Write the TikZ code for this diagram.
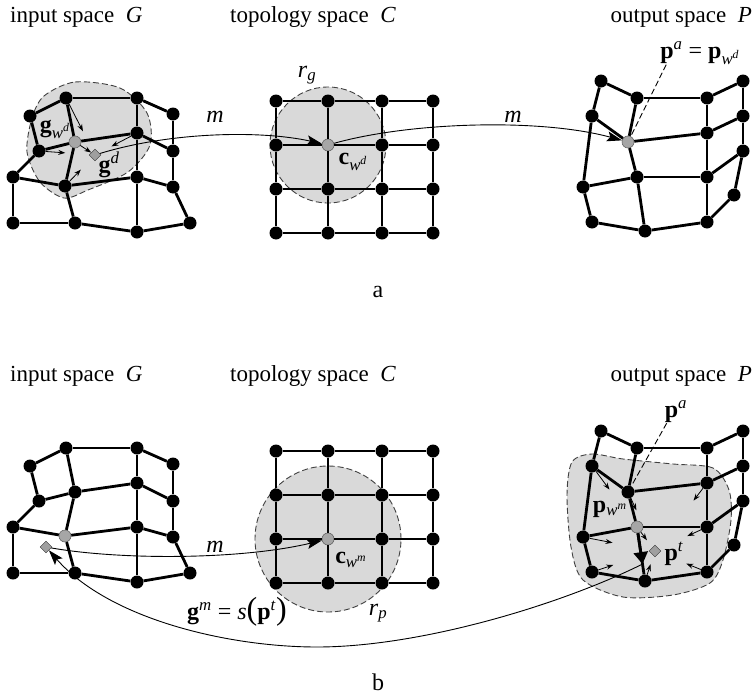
\documentclass[tikz,border=0pt]{standalone}
\usepackage{fontspec}
\setmainfont{Liberation Serif}
\usetikzlibrary{arrows.meta, shapes.geometric, backgrounds}

% input space mesh, #1 = index of the grey node
\newcommand{\inmesh}[1]{%
  \foreach \n/\x/\y in {1/30/116, 2/66/98, 3/137/98, 4/173/114, 5/39/151, 6/75/142, 7/137/133, 8/173/151,
                        9/13/177, 10/65/186, 11/137/177, 12/173/187, 13/13/223, 14/75/223, 15/137/232, 16/190/223}{
    \ifnum\n=#1\relax \node[win] (g\n) at (\x,\y) {};
    \else \node[vtx] (g\n) at (\x,\y) {};\fi}
  \foreach \a/\b in {1/2, 2/3, 3/4, 4/8, 1/5, 2/6, 5/6, 6/7, 7/8, 3/7, 7/11, 11/15, 5/9, 6/10, 9/10,
                     10/11, 11/12, 8/12, 9/13, 13/14, 10/14, 14/15, 15/16, 12/16}
    \draw[wire] (g\a) -- (g\b);
}
% topology grid, #1 = column and row of the grey node
\newcommand{\topogrid}[1]{%
  \foreach \i/\x in {1/276, 2/328, 3/382, 4/433}
    \foreach \j/\y in {1/101, 2/145, 3/189, 4/233}{
      \ifnum\i\j=#1\relax \node[win] (c\i\j) at (\x,\y) {};
      \else \node[vtx] (c\i\j) at (\x,\y) {};\fi}
  \foreach \i [evaluate=\i as \k using int(\i+1)] in {1,2,3}
    \foreach \j in {1,...,4}{
      \draw[wire] (c\i\j) -- (c\k\j);
      \draw[wire] (c\j\i) -- (c\j\k);}
}
% output space mesh, #1 = index of the grey node
\newcommand{\outmesh}[1]{%
  \foreach \n/\x/\y in {1/601/81, 2/637/98, 3/707/98, 4/743/81, 5/592/116, 6/743/116, 7/707/133, 8/628/142,
                        9/743/151, 10/583/187, 11/637/177, 12/707/177, 13/734/195, 14/592/222, 15/645/231, 16/707/222}{
    \ifnum\n=#1\relax \node[win] (p\n) at (\x,\y) {};
    \else \node[vtx] (p\n) at (\x,\y) {};\fi}
  \foreach \a/\b in {1/2, 2/3, 3/4, 1/5, 2/8, 3/7, 7/12, 12/16, 4/6, 6/9, 5/8, 8/7, 7/6, 5/10, 8/11,
                     10/11, 11/12, 12/9, 9/13, 13/16, 10/14, 14/15, 15/16, 11/15}
    \draw[wire] (p\a) -- (p\b);
}

\begin{document}
\begin{tikzpicture}[x=1pt, y=-1pt,
    vtx/.style={circle, fill=black, inner sep=0pt, minimum size=13pt},
    win/.style={circle, fill=gray!70, draw=black!60, line width=0.6pt, inner sep=0pt, minimum size=12pt},
    probe/.style={diamond, fill=gray!75, draw=gray!40!black, line width=0.4pt, inner sep=0pt, minimum size=12pt},
    wire/.style={line width=2.8pt},
    reach/.style={draw=black!75, fill=black!15, line width=0.9pt, dash pattern=on 6pt off 3pt},
    mapto/.style={line width=0.9pt, -{Stealth[length=15pt, width=10pt, inset=3pt]}},
    pull/.style={line width=0.8pt, -{Stealth[length=7pt, width=5pt]}},
    guide/.style={line width=0.9pt, dash pattern=on 6pt off 3pt},
    lbl/.style={font=\fontsize{24}{28}\selectfont, inner sep=0pt},
    head/.style={font=\fontsize{23}{27}\selectfont, inner sep=0pt, anchor=base west}
  ]
  \useasboundingbox (0,0) rectangle (755,696);

  % titles
  \node[head] (tg1) at (10,22) {input space\enspace\textit{G}};
  \node[head] (tc1) at (230,22) {topology space\enspace\textit{C}};
  \node[head, anchor=base east] (tp1) at (752,22) {output space\enspace\textit{P}};
  \node[head] (tg2) at (10,381) {input space\enspace\textit{G}};
  \node[head] (tc2) at (230,381) {topology space\enspace\textit{C}};
  \node[head, anchor=base east] (tp2) at (752,381) {output space\enspace\textit{P}};
  \node[lbl] (capa) at (378,292) {a};
  \node[lbl] (capb) at (378,682) {b};

  % (a)
  \begin{scope}[name prefix=a-]
    \inmesh{6}
    \topogrid{22}
    \outmesh{8}
    \node[probe] (gd) at (95,155) {};
    \begin{scope}[on background layer]
      \draw[reach] plot[smooth cycle] coordinates {(44,96) (75,82) (120,88) (147,113) (150,145)
        (128,172) (88,190) (64,198) (40,182) (27,152) (32,118)};
      \draw[reach] (c22) circle[radius=58pt];
    \end{scope}
    \foreach \v/\s in {2/22, 5/24, 10/16, 7/14, 6/0}
      \draw[pull, shorten >=\s pt] (g\v) -- (gd);
    \draw[mapto] (gd) .. controls (170,132) and (260,130) .. (c22);
    \draw[mapto] (c22) .. controls (410,122) and (540,118) .. (p8);
    \node[lbl] (gwl) at (55,129) {\textbf{g}\textsubscript{\textit{w}\textsuperscript{\textit{d}}}};
    \node[lbl] (gdl) at (109,165) {\textbf{g}\textsuperscript{\textit{d}}};
    \node[lbl] (m1) at (215,117) {\textit{m}};
    \node[lbl] (m2) at (513,117) {\textit{m}};
    \node[lbl] (rg) at (307,75) {\textit{r}\textsubscript{\textit{g}}};
    \node[lbl] (cwl) at (353,162) {\textbf{c}\textsubscript{\textit{w}\textsuperscript{\textit{d}}}};
    \node[lbl] (pa) at (700,53) {\textbf{p}\textsuperscript{\textit{a}} = \textbf{p}\textsubscript{\textit{w}\textsuperscript{\textit{d}}}};
    \draw[guide] ([xshift=6pt]pa.south west) -- (p8);
  \end{scope}

  % (b)
  \begin{scope}[yshift=-350pt, name prefix=b-]
    \inmesh{10}
    \topogrid{23}
    \outmesh{11}
    \node[probe] (gm) at (46,197) {};
    \node[probe] (pt) at (655,201) {};
    \begin{scope}[on background layer]
      \draw[reach] plot[smooth cycle] coordinates {(572,112) (592,104) (623,109) (673,114) (713,118)
        (729,140) (731,170) (723,210) (710,233) (673,245) (623,247) (583,230) (571,197) (567,145)};
      \draw[reach] (c23) circle[radius=73pt];
    \end{scope}
    \foreach \v/\s in {5/72, 8/40, 7/59, 12/31, 10/38, 14/39, 15/9, 16/29, 11/9}
      \draw[pull, shorten >=\s pt] (p\v) -- (pt);
    \path (p11) -- (p15) coordinate[pos=0.75] (tip);
    \draw[line width=2.8pt, -{Triangle[length=12pt, width=14pt]}] (p11) -- (tip);
    \draw[mapto] (gm) .. controls (120,210) and (240,210) .. (c23);
    \draw[mapto] (tip) .. controls (560,255) and (420,297) .. (317,297)
      .. controls (230,297) and (110,270) .. (gm);
    \node[lbl] (m3) at (215,197) {\textit{m}};
    \node[lbl] (cwm) at (351,210) {\textbf{c}\textsubscript{\textit{w}\textsuperscript{\textit{m}}}};
    \node[lbl] (rp) at (378,263) {\textit{r}\textsubscript{\textit{p}}};
    \node[lbl] (sl) at (237,262) {\textbf{g}\textsuperscript{\textit{m}} = \textit{s}{\fontsize{32}{32}\selectfont(}\textbf{p}\textsuperscript{\textit{t}}{\fontsize{32}{32}\selectfont)}};
    \node[lbl] (pa) at (676,62) {\textbf{p}\textsuperscript{\textit{a}}};
    \node[lbl] (pwl) at (610,159) {\textbf{p}\textsubscript{\textit{w}\textsuperscript{\textit{m}}}};
    \node[lbl] (ptl) at (674,204) {\textbf{p}\textsuperscript{\textit{t}}};
    \draw[guide] ([xshift=2pt]pa.south west) -- (p8);
  \end{scope}
\end{tikzpicture}
\end{document}
